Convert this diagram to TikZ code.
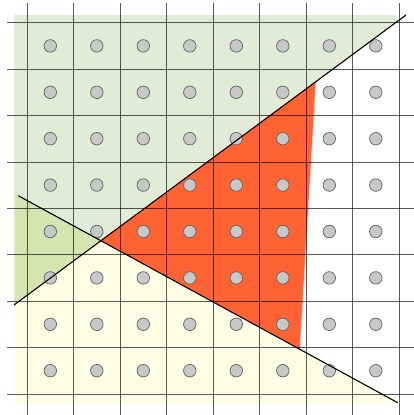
\documentclass[tikz,border=0pt]{standalone}
\definecolor{greenbg}{RGB}{226,235,214}
\definecolor{yellowbg}{RGB}{254,254,228}
\definecolor{overlapbg}{RGB}{214,228,176}
\definecolor{orangefill}{RGB}{255,99,51}
\definecolor{orangeedge}{RGB}{240,200,190}
\definecolor{dotfill}{RGB}{200,200,200}
\definecolor{dotdraw}{RGB}{95,95,95}
\tikzset{
  gridline/.style={black, opacity=0.65, line width=0.8pt},
  dotmark/.style={circle, draw=dotdraw, fill=dotfill, line width=0.7pt, minimum size=12.5pt, inner sep=0pt},
  edgeline/.style={black, line width=1.1pt},
}
\begin{document}
\begin{tikzpicture}[x=1pt,y=-1pt]
\useasboundingbox (0,0) rectangle (414,415);
% key points
\coordinate (Astart) at (14,305);
\coordinate (Aend) at (406,15);
\coordinate (Bstart) at (18.3,195.7);
\coordinate (Bend) at (397.7,402.7);
\coordinate (I) at (100.86,240.74);
\coordinate (T) at (316,81.6);
\coordinate (Bot) at (300,349.4);
% backgrounds
\fill[greenbg] (14,15) -- (396.7,15) -- (396.7,21.9) -- (Astart) -- cycle;
\fill[yellowbg] (15,194) -- (Bend) -- (15,402.7) -- cycle;
\fill[overlapbg] (15,194) -- (I) -- (15,304.3) -- cycle;
% orange region
\fill[orangefill] (I) -- (T) -- (Bot) -- cycle;
\draw[orangeedge, line width=0.8pt] (T) -- (Bot);
% grid
\foreach \i in {0,...,8} {
  \draw[gridline] ({27+46.5*\i},3) -- ({27+46.5*\i},415);
  \draw[gridline] (7,{22.7+46.4*\i}) -- (414,{22.7+46.4*\i});
}
% dots
\foreach \i in {0,...,7} {
  \foreach \j in {0,...,7} {
    \node[dotmark] (d\i\j) at ({50.3+46.5*\i},{45.9+46.4*\j}) {};
  }
}
% lines
\draw[edgeline] (Astart) -- (Aend);
\draw[edgeline] (Bstart) -- (Bend);
\end{tikzpicture}
\end{document}
